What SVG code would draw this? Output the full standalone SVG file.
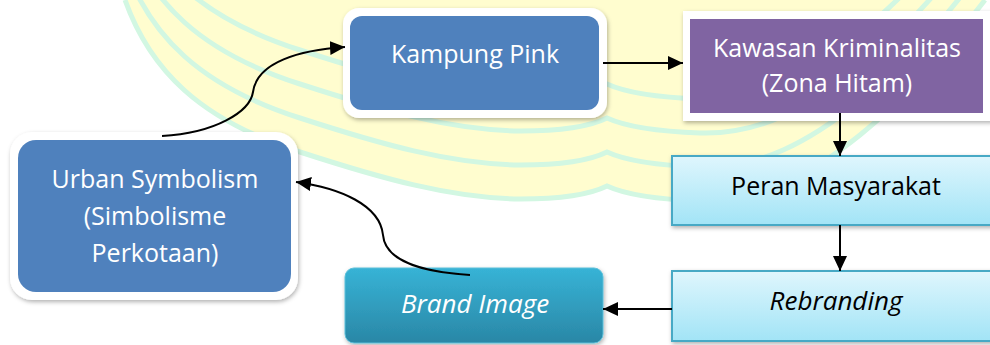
<svg xmlns="http://www.w3.org/2000/svg" width="990" height="345" viewBox="0 0 990 345">
<defs>
<style>
.wm-band{fill:none;stroke:#d2f7e2;stroke-width:5}
.lbl{font-family:"Open Sans","Liberation Sans",sans-serif;text-anchor:middle}
.w{fill:#ffffff}
.k{fill:#000000}
.it{font-style:italic}
.con{fill:none;stroke:#000000;stroke-width:2}
.blue{fill:#4f81bd}
.frame{fill:#ffffff}
</style>
<linearGradient id="gCyan" x1="0" y1="0" x2="0" y2="1">
<stop offset="0" stop-color="#dff6fd"/>
<stop offset="1" stop-color="#a2e4f6"/>
</linearGradient>
<linearGradient id="gTeal" x1="0" y1="0" x2="0" y2="1">
<stop offset="0" stop-color="#37b3d6"/>
<stop offset="1" stop-color="#2a87a6"/>
</linearGradient>
<filter id="sh" x="-10%" y="-10%" width="120%" height="130%">
<feDropShadow dx="1" dy="2" stdDeviation="2" flood-color="#000" flood-opacity="0.3"/>
</filter>
<marker id="ah" markerUnits="userSpaceOnUse" markerWidth="16" markerHeight="14" refX="15" refY="7" orient="auto">
<path d="M0,0 L15,7 L0,14 Z" fill="#000"/>
</marker>
<path id="wmc" d="M125,0 C150,70 200,120 300,152 C380,178 450,198 520,199 C570,199 595,192 607,186 C620,192 645,199 700,201 C760,203 810,175 860,135 C910,95 950,45 985,0"/>
</defs>
<rect width="990" height="345" fill="#ffffff"/>
<g id="watermark">
<path d="M125,0 C150,70 200,120 300,152 C380,178 450,198 520,199 C570,199 595,192 607,186 C620,192 645,199 700,201 C760,203 810,175 860,135 C910,95 950,45 985,0 Z" fill="#fffdcf"/>
<use href="#wmc" class="wm-band"/>
<use href="#wmc" class="wm-band" transform="translate(0,-34)"/>
<use href="#wmc" class="wm-band" transform="translate(0,-68)"/>
<use href="#wmc" class="wm-band" transform="translate(0,-102)"/>
</g>
<g id="urban">
<rect class="frame" x="10" y="132" width="288" height="168" rx="22" filter="url(#sh)"/>
<rect class="blue" x="18" y="140" width="273" height="152" rx="18"/>
<text class="lbl w" x="155" y="188" font-size="25">Urban Symbolism</text>
<text class="lbl w" x="155" y="225" font-size="25">(Simbolisme</text>
<text class="lbl w" x="155" y="262" font-size="25">Perkotaan)</text>
</g>
<g id="kampung">
<rect class="frame" x="343" y="8" width="264" height="110" rx="16" filter="url(#sh)"/>
<rect class="blue" x="350" y="16" width="249" height="94" rx="12"/>
<text class="lbl w" x="475" y="63" font-size="25">Kampung Pink</text>
</g>
<g id="kawasan">
<rect x="683" y="11" width="310" height="110" fill="#ffffff" filter="url(#sh)"/>
<rect x="690" y="19" width="293" height="94" fill="#8064a2"/>
<text class="lbl w" x="837" y="57" font-size="25">Kawasan Kriminalitas</text>
<text class="lbl w" x="837" y="92" font-size="25">(Zona Hitam)</text>
</g>
<g id="peran">
<rect x="672" y="156" width="330" height="69" fill="url(#gCyan)" stroke="#46a9c5" stroke-width="2" filter="url(#sh)"/>
<text class="lbl k" x="836" y="195" font-size="25">Peran Masyarakat</text>
</g>
<g id="rebranding">
<rect x="672" y="271" width="330" height="70" fill="url(#gCyan)" stroke="#46a9c5" stroke-width="2" filter="url(#sh)"/>
<text class="lbl k it" x="836" y="310" font-size="26">Rebranding</text>
</g>
<g id="brand">
<rect x="345" y="268" width="258" height="75" rx="9" fill="url(#gTeal)" stroke="#5bbfd9" stroke-width="1" filter="url(#sh)"/>
<text class="lbl w it" x="475" y="313" font-size="26">Brand Image</text>
</g>
<g id="connectors">
<path class="con" d="M162,136 C215,133 250,112 253,92 C257,62 300,50 345,47" marker-end="url(#ah)"/>
<path class="con" d="M470,275 C420,272 385,260 383,235 C380,205 340,188 296,182" marker-end="url(#ah)"/>
<path class="con" d="M603,63 L683,63" marker-end="url(#ah)"/>
<path class="con" d="M840,113 L840,156" marker-end="url(#ah)"/>
<path class="con" d="M840,225 L840,271" marker-end="url(#ah)"/>
<path class="con" d="M672,309 L603,309" marker-end="url(#ah)"/>
</g>
</svg>
